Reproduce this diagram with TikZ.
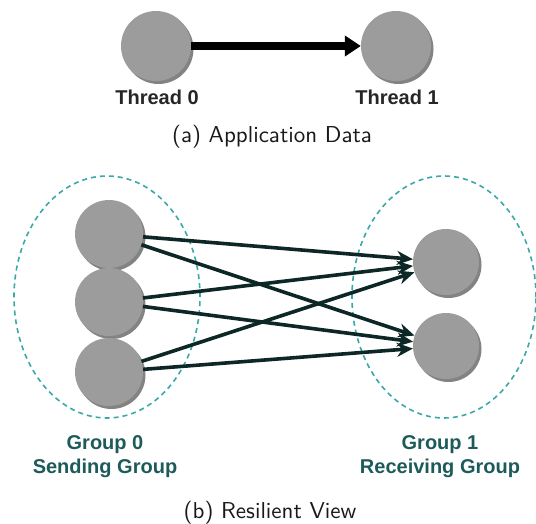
\documentclass[tikz,border=0pt]{standalone}
\usepackage{fontspec}
\newfontfamily\lab{Liberation Sans}
\newfontfamily\capfont{lmsans10-regular}[Extension=.otf]
\usetikzlibrary{arrows.meta,shadows,shapes.geometric}
\definecolor{ballgray}{HTML}{9C9C9C}
\definecolor{dashteal}{HTML}{3AA8A8}
\definecolor{linedark}{HTML}{0D2626}
\definecolor{grouptxt}{HTML}{1D5B5B}
\begin{document}
\begin{tikzpicture}[x=1pt,y=-1pt,
  ball/.style={circle,fill=ballgray,minimum size=68pt,inner sep=0pt,
    drop shadow={shadow xshift=2.5pt,shadow yshift=-3pt,opacity=0.75,fill=black!65}},
  sball/.style={ball,minimum size=66pt},
  threadlab/.style={font=\lab\bfseries\fontsize{20}{22}\selectfont,text=black!85},
  grouplab/.style={font=\lab\bfseries\fontsize{20}{24}\selectfont,text=grouptxt,align=center},
  caption/.style={font=\capfont\fontsize{23}{26}\selectfont,text=black!90},
  grp/.style={draw=dashteal,dash pattern=on 5pt off 4pt,line width=1.6pt},
  conn/.style={draw=linedark,line width=3.6pt,-{Stealth[length=16pt,width=14pt]}}]
\useasboundingbox (0,0) rectangle (536,524);
% (a)
\node[ball,minimum size=70pt] (t0) at (156,46) {};
\node[ball,minimum size=70pt] (t1) at (396,46) {};
\draw[line width=7.5pt,-{Triangle[length=16pt,width=20pt]}] (t0) -- (t1);
\node[threadlab] (l0) at (157,97) {Thread 0};
\node[threadlab] (l1) at (397,97) {Thread 1};
\node[caption] (ca) at (272,137) {(a) Application Data};
% (b)
\node[grp,ellipse,minimum width=186pt,minimum height=242pt,inner sep=0pt,draw] (g0) at (107,297) {};
\node[grp,ellipse,minimum width=184pt,minimum height=242pt,inner sep=0pt,draw] (g1) at (444,297) {};
\node[ball] (a1) at (109,234) {};
\node[ball] (a2) at (109,302) {};
\node[ball] (a3) at (109,372) {};
\node[sball] (b1) at (446,262) {};
\node[sball] (b2) at (446,346) {};
\foreach \s in {a1,a2,a3}{
  \draw[conn] (\s) -- (b1);
  \draw[conn] (\s) -- (b2);
}
\node[grouplab] (n0) at (105,457) {Group 0\\Sending Group};
\node[grouplab] (n1) at (440,457) {Group 1\\Receiving Group};
\node[caption] (cb) at (270,513) {(b) Resilient View};
\end{tikzpicture}
\end{document}
